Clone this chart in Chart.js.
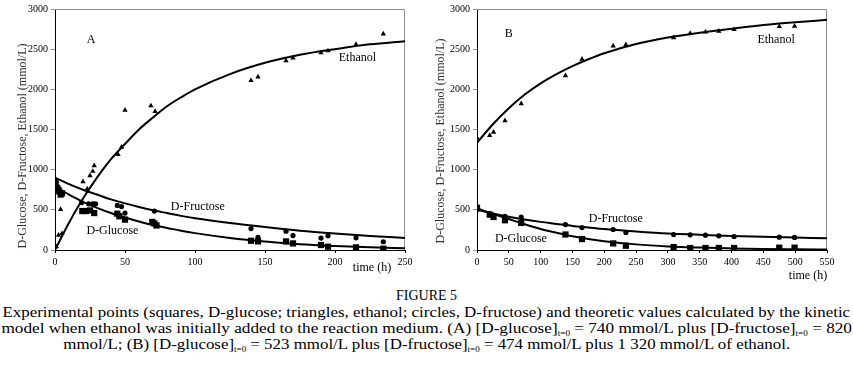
<!DOCTYPE html>
<html>
<head>
<meta charset="utf-8">
<script src="https://cdn.jsdelivr.net/npm/chart.js@4.4.1/dist/chart.umd.min.js"></script>
<style>
    body { margin: 0; background: #fff; width: 853px; height: 376px; overflow: hidden; position: relative; font-family: "Liberation Serif", "DejaVu Serif", serif; }
    canvas { position: absolute; top: 0; }
    #chartA { left: 0; }
    #chartB { left: 430px; }
    #caption { position: absolute; left: 0; top: 287px; width: 853px; color: #000; }
    #caption div { white-space: nowrap; text-align: center; }
    #caption span { display: inline-block; transform-origin: center; }
    #figTitle { font-size: 14px; line-height: 17px; }
    .capLine { font-size: 15px; line-height: 16px; }
    sub { font-size: 8px; vertical-align: -3px; line-height: 0; }
</style>
</head>
<body>
<canvas id="chartA" width="430" height="285"></canvas>
<canvas id="chartB" width="423" height="285"></canvas>
<div id="caption">
    <div id="figTitle"><span>FIGURE 5</span></div>
    <div class="capLine"><span id="line1">Experimental points (squares, D-glucose; triangles, ethanol; circles, D-fructose) and theoretic values calculated by the kinetic</span></div>
    <div class="capLine"><span id="line2">model when ethanol was initially added to the reaction medium. (A) [D-glucose]<sub>t=0</sub> = 740 mmol/L plus [D-fructose]<sub>t=0</sub> = 820</span></div>
    <div class="capLine"><span id="line3">mmol/L; (B) [D-glucose]<sub>t=0</sub> = 523 mmol/L plus [D-fructose]<sub>t=0</sub> = 474 mmol/L plus 1 320 mmol/L of ethanol.</span></div>
</div>
<script>
// ---- Panel A: experimental points (time in h, concentration in mmol/L) ----
const ethanolTimeA = [1, 2.5, 4, 5, 20, 23, 25, 27, 28, 45, 47.5, 50, 68.5, 71.5, 140, 145, 165, 170, 190, 195, 215, 234.5];
const ethanolA = [40, 185, 505, 205, 850, 760, 925, 980, 1050, 1190, 1280, 1740, 1795, 1725, 2110, 2155, 2355, 2390, 2455, 2480, 2560, 2690];
const fructoseTimeA = [0, 1, 2, 3, 4, 19, 24, 27, 29, 44.5, 47.5, 50, 71, 140, 145, 165, 170, 190, 195, 215, 234.5];
const fructoseA = [860, 845, 790, 760, 720, 590, 575, 575, 575, 555, 540, 460, 485, 267, 156, 234, 180, 148, 177, 152, 103];
const glucoseTimeA = [1, 3, 4, 5, 19.5, 22, 25, 28, 44.5, 46, 50, 69.5, 71, 72.5, 140, 145, 165, 170, 190, 195, 215, 234.5];
const glucoseA = [760, 730, 690, 705, 485, 485, 493, 460, 452, 420, 378, 350, 330, 305, 115, 107, 107, 82, 62, 41, 33, 16];

// Panel A: model curves
const modelTimeA = [0, 10, 20, 30, 40, 50, 60, 70, 80, 90, 100, 125, 150, 175, 200, 225, 250];
const ethanolModelA = [0, 340, 640, 900, 1130, 1320, 1500, 1650, 1790, 1900, 2000, 2190, 2330, 2430, 2500, 2560, 2600];
const fructoseModelA = [900, 820, 750, 690, 630, 580, 535, 495, 460, 425, 395, 335, 285, 240, 205, 175, 150];
const glucoseModelA = [790, 690, 600, 525, 460, 405, 355, 310, 275, 240, 210, 150, 105, 72, 50, 33, 22];

// ---- Panel B: experimental points ----
const timeB = [0, 20, 26, 44, 69.5, 139, 165, 214, 234, 309, 335, 359, 380, 404, 475, 499];
const ethanolB = [1397, 1426, 1467, 1611, 1821, 2170, 2376, 2540, 2556, 2643, 2696, 2713, 2725, 2745, 2782, 2787];
const fructoseB = [500, 452, 430, 419, 411, 316, 279, 255, 218, 193, 189, 185, 177, 168, 160, 156];
const glucoseB = [526, 440, 411, 370, 337, 193, 136, 82, 53, 37, 25, 25, 25, 25, 29, 29];

// Panel B: model curves
const modelTimeB = [0, 25, 50, 75, 100, 125, 150, 175, 200, 250, 300, 350, 400, 450, 500, 550];
const ethanolModelB = [1335, 1565, 1765, 1935, 2075, 2190, 2290, 2375, 2450, 2565, 2645, 2705, 2755, 2800, 2835, 2865];
const fructoseModelB = [500, 455, 415, 380, 350, 325, 300, 280, 260, 230, 205, 190, 175, 165, 155, 145];
const glucoseModelB = [520, 450, 385, 320, 262, 215, 172, 138, 110, 70, 45, 30, 20, 12, 8, 5];

const yTicks = [0, 500, 1000, 1500, 2000, 2500, 3000];
const yTitle = 'D-Glucose, D-Fructose, Ethanol (mmol/L)';
const xTitle = 'time (h)';

const serif = '"Liberation Serif", "DejaVu Serif", serif';
const tickFont = { family: serif, size: 10 };

function toPoints(ts, vs) {
    return ts.map((t, i) => ({ x: t, y: vs[i] }));
}

function curve(ts, vs) {
    return {
        data: toPoints(ts, vs),
        showLine: true,
        borderColor: '#000',
        borderWidth: 2,
        pointRadius: 0,
        cubicInterpolationMode: 'monotone'
    };
}

function marks(ts, vs, style, r) {
    return {
        data: toPoints(ts, vs),
        pointStyle: style,
        pointRadius: r,
        backgroundColor: '#000',
        borderColor: '#000',
        borderWidth: 0,
        showLine: false
    };
}

// Frame, axis titles and in-plot labels
const panelDecor = {
    id: 'panelDecor',
    beforeDatasetsDraw(chart) {
        const { ctx, chartArea: a } = chart;
        ctx.save();
        ctx.strokeStyle = '#8f8f8f';
        ctx.lineWidth = 1;
        ctx.beginPath();
        ctx.moveTo(a.left, a.top + 0.5);
        ctx.lineTo(a.right - 0.5, a.top + 0.5);
        ctx.lineTo(a.right - 0.5, a.bottom);
        ctx.stroke();
        ctx.restore();
    },
    afterDraw(chart, args, opts) {
        const { ctx, scales } = chart;
        ctx.save();
        ctx.fillStyle = '#000';
        ctx.textAlign = 'center';
        ctx.textBaseline = 'middle';
        ctx.font = '12px ' + serif;
        opts.labels.forEach(l => {
            ctx.fillText(l.text, scales.x.getPixelForValue(l.x), scales.y.getPixelForValue(l.y));
        });
        ctx.fillText(xTitle, opts.xTitleAt[0], opts.xTitleAt[1]);
        ctx.fillStyle = '#333';
        ctx.translate(opts.yTitleAt[0], opts.yTitleAt[1]);
        ctx.rotate(-Math.PI / 2);
        ctx.fillText(yTitle, 0, 0);
        ctx.restore();
    }
};

function makeChart(id, cfg) {
    new Chart(document.getElementById(id), {
        type: 'scatter',
        data: {
            datasets: [
                curve(cfg.modelTime, cfg.ethanolModel),
                curve(cfg.modelTime, cfg.fructoseModel),
                curve(cfg.modelTime, cfg.glucoseModel),
                marks(cfg.ethanolTime, cfg.ethanol, 'triangle', 3.1),
                marks(cfg.fructoseTime, cfg.fructose, 'circle', 2.6),
                marks(cfg.glucoseTime, cfg.glucose, 'rect', 4.4)
            ]
        },
        options: {
            responsive: false,
            animation: false,
            devicePixelRatio: 1,
            layout: { padding: { left: 0, right: cfg.padRight, top: 7, bottom: 0 } },
            plugins: {
                legend: { display: false },
                tooltip: { enabled: false },
                panelDecor: cfg.decor
            },
            scales: {
                x: {
                    type: 'linear',
                    min: 0,
                    max: cfg.xMax,
                    border: { color: '#000', width: 1 },
                    grid: { drawOnChartArea: false, drawTicks: true, tickLength: 3, color: '#000' },
                    ticks: { stepSize: 50, font: tickFont, color: '#000', padding: 3, maxRotation: 0, callback: v => String(v) },
                    afterFit(s) { s.height = 35; }
                },
                y: {
                    type: 'linear',
                    min: 0,
                    max: 3000,
                    border: { color: '#000', width: 1 },
                    grid: { drawOnChartArea: false, drawTicks: true, tickLength: 4, color: '#999' },
                    afterBuildTicks(s) { s.ticks = yTicks.map(v => ({ value: v })); },
                    ticks: { font: tickFont, color: '#000', padding: 3, callback: v => String(v) },
                    afterFit(s) { s.width = cfg.yWidth; }
                }
            }
        },
        plugins: [panelDecor]
    });
}

makeChart('chartA', {
    xMax: 250, yWidth: 55, padRight: 25,
    modelTime: modelTimeA,
    ethanolModel: ethanolModelA, fructoseModel: fructoseModelA, glucoseModel: glucoseModelA,
    ethanolTime: ethanolTimeA, ethanol: ethanolA,
    fructoseTime: fructoseTimeA, fructose: fructoseA,
    glucoseTime: glucoseTimeA, glucose: glucoseA,
    decor: {
        xTitleAt: [372, 268],
        yTitleAt: [23, 146],
        labels: [
            { text: 'A', x: 25.7, y: 2618 },
            { text: 'Ethanol', x: 216, y: 2396 },
            { text: 'D-Fructose', x: 102, y: 531 },
            { text: 'D-Glucose', x: 41, y: 235 }
        ]
    }
});

makeChart('chartB', {
    xMax: 550, yWidth: 47, padRight: 26,
    modelTime: modelTimeB,
    ethanolModel: ethanolModelB, fructoseModel: fructoseModelB, glucoseModel: glucoseModelB,
    ethanolTime: timeB, ethanol: ethanolB,
    fructoseTime: timeB, fructose: fructoseB,
    glucoseTime: timeB, glucose: glucoseB,
    decor: {
        xTitleAt: [378, 276],
        yTitleAt: [11, 141],
        labels: [
            { text: 'B', x: 50, y: 2692 },
            { text: 'Ethanol', x: 470, y: 2618 },
            { text: 'D-Fructose', x: 218, y: 383 },
            { text: 'D-Glucose', x: 69, y: 136 }
        ]
    }
});

// Squeeze the caption lines to the width they take in the figure
const line1 = document.getElementById('line1');
const line2 = document.getElementById('line2');
const line3 = document.getElementById('line3');
const squeeze = 848 / line1.offsetWidth;
line1.style.transform = 'scaleX(' + squeeze + ')';
line2.style.transform = 'scaleX(' + (850 / line2.offsetWidth) + ')';
line3.style.transform = 'scaleX(' + squeeze + ')';
</script>
</body>
</html>
